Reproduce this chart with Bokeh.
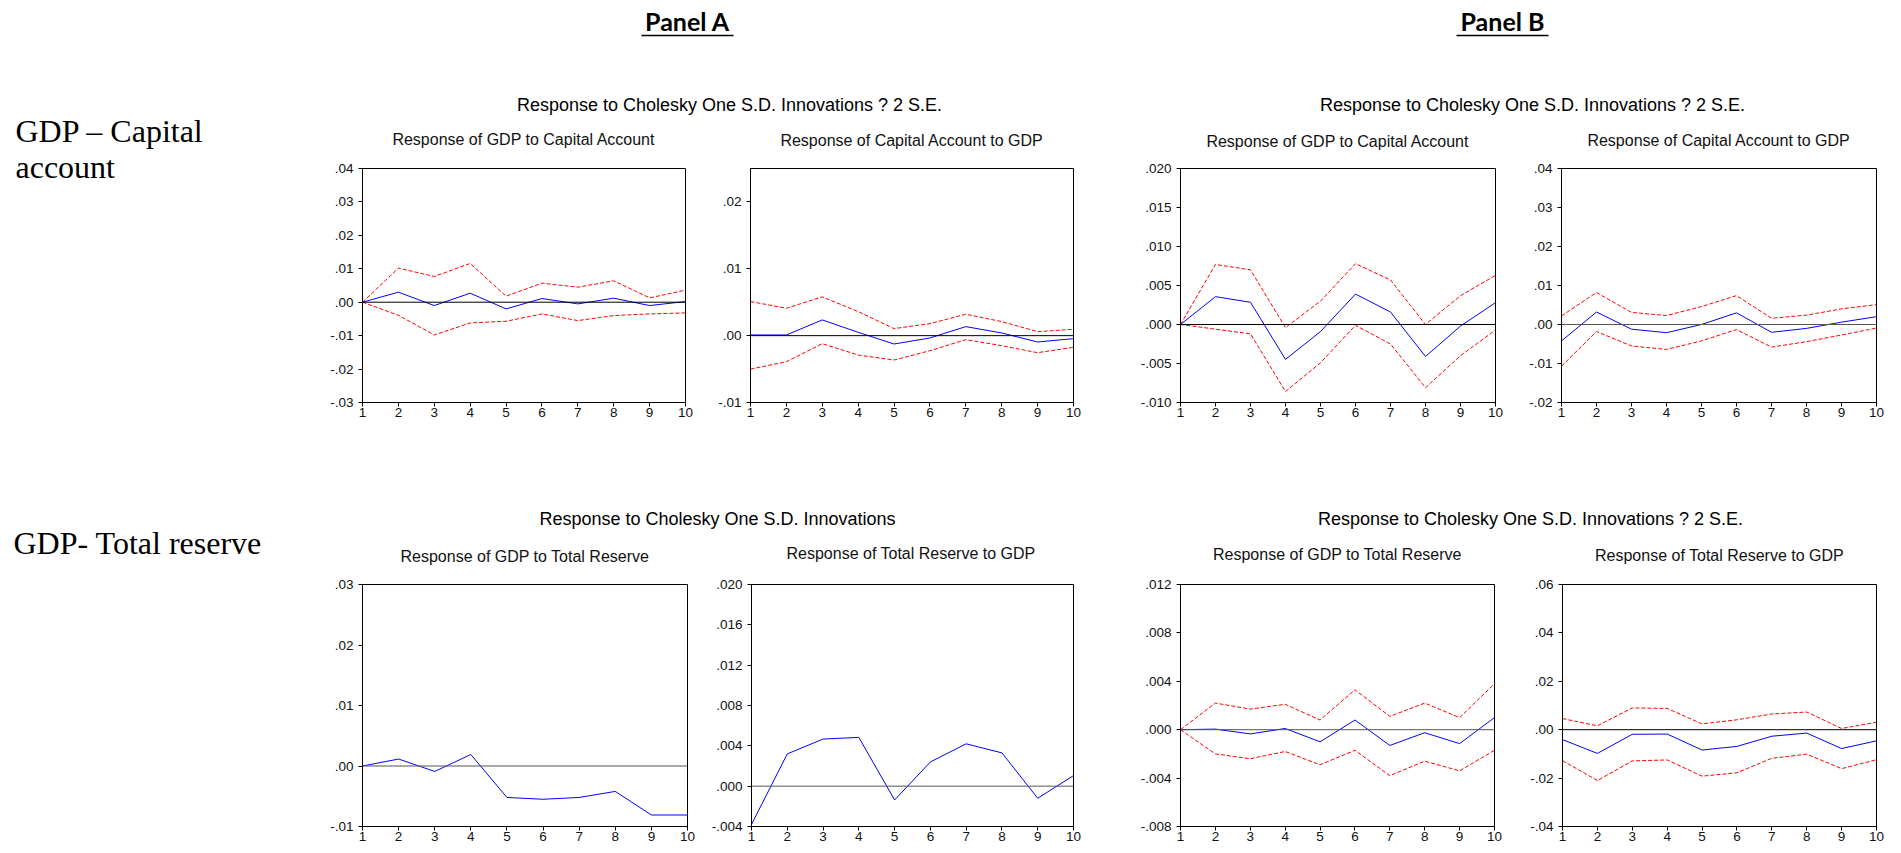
from bokeh.plotting import figure
from bokeh.models import (Range1d, FixedTicker, CustomJSTickFormatter, Span, Label,
                          ColumnDataSource)
from bokeh.layouts import row, column
from bokeh.embed import file_html
from bokeh.resources import INLINE

# ---------------- data ----------------
horizons = [1, 2, 3, 4, 5, 6, 7, 8, 9, 10]

panel_titles = ["Panel A", "Panel B"]
row_labels = [["GDP \u2013 Capital", "account"], ["GDP- Total reserve"]]
super_titles = ["Response to Cholesky One S.D. Innovations ? 2 S.E.",
                "Response to Cholesky One S.D. Innovations ? 2 S.E.",
                "Response to Cholesky One S.D. Innovations",
                "Response to Cholesky One S.D. Innovations ? 2 S.E."]
sub_titles = ["Response of GDP to Capital Account", "Response of Capital Account to GDP",
              "Response of GDP to Capital Account", "Response of Capital Account to GDP",
              "Response of GDP to Total Reserve", "Response of Total Reserve to GDP",
              "Response of GDP to Total Reserve", "Response of Total Reserve to GDP"]

# Panel A, GDP - Capital account
a_gdp_ca = [0.0, 0.0030, -0.0010, 0.0027, -0.0020, 0.0011, -0.0005, 0.0012, -0.0010, 0.0002]
a_gdp_ca_hi = [0.0, 0.0102, 0.0077, 0.0116, 0.0018, 0.0057, 0.0045, 0.0064, 0.0013, 0.0036]
a_gdp_ca_lo = [0.0, -0.0039, -0.0098, -0.0062, -0.0057, -0.0035, -0.0055, -0.0040, -0.0035, -0.0032]
a_ca_gdp = [0.0001, 0.0001, 0.00235, 0.0005, -0.00125, -0.00035, 0.00135, 0.0004, -0.00095, -0.00045]
a_ca_gdp_hi = [0.0051, 0.0041, 0.0058, 0.0036, 0.00105, 0.0018, 0.0032, 0.0021, 0.0006, 0.00095]
a_ca_gdp_lo = [-0.0050, -0.0039, -0.0012, -0.0029, -0.00365, -0.00225, -0.0006, -0.0015, -0.00255, -0.00175]

# Panel B, GDP - Capital account
b_gdp_ca = [0.0, 0.00357, 0.00285, -0.00447, -0.0009, 0.0039, 0.0016, -0.0041, -0.0002, 0.0028]
b_gdp_ca_hi = [0.0, 0.0077, 0.0070, -0.0004, 0.0030, 0.0078, 0.0057, 0.0000, 0.0037, 0.0063]
b_gdp_ca_lo = [0.0, -0.0006, -0.0012, -0.0086, -0.0049, -0.0001, -0.0025, -0.0081, -0.0040, -0.0007]
b_ca_gdp = [-0.0042, 0.0032, -0.0012, -0.0021, 0.0000, 0.0030, -0.0020, -0.0010, 0.0006, 0.0020]
b_ca_gdp_hi = [0.0022, 0.0082, 0.0031, 0.0023, 0.0046, 0.0074, 0.0016, 0.0024, 0.0040, 0.0051]
b_ca_gdp_lo = [-0.0107, -0.0018, -0.0055, -0.0064, -0.0042, -0.0013, -0.0058, -0.0044, -0.0027, -0.0009]

# Panel A, GDP - Total reserve (no bands)
a_gdp_tr = [0.0, 0.00115, -0.0009, 0.0019, -0.0052, -0.0055, -0.0052, -0.0042, -0.0081, -0.0081]
a_tr_gdp = [-0.0038, 0.0032, 0.00467, 0.00484, -0.00137, 0.0024, 0.0042, 0.0033, -0.0012, 0.00105]

# Panel B, GDP - Total reserve
b_gdp_tr = [0.0, 0.00005, -0.00035, 0.0001, -0.0010, 0.0008, -0.0013, -0.00025, -0.00115, 0.0010]
b_gdp_tr_hi = [0.0, 0.0022, 0.0017, 0.0021, 0.0008, 0.0033, 0.0011, 0.0022, 0.0010, 0.0038]
b_gdp_tr_lo = [0.0, -0.0020, -0.0024, -0.0018, -0.0029, -0.0017, -0.0038, -0.0026, -0.0034, -0.0017]
b_tr_gdp = [-0.0041, -0.0098, -0.0019, -0.0018, -0.0084, -0.0069, -0.0027, -0.0014, -0.0078, -0.0046]
b_tr_gdp_hi = [0.0046, 0.0016, 0.0090, 0.0088, 0.0024, 0.0041, 0.0065, 0.0073, 0.0005, 0.0031]
b_tr_gdp_lo = [-0.0128, -0.0210, -0.0129, -0.0125, -0.0192, -0.0178, -0.0118, -0.0101, -0.0161, -0.0124]

# y tick values for each panel (labels are these values without the leading zero)
yticks_1 = [-0.03, -0.02, -0.01, 0.0, 0.01, 0.02, 0.03, 0.04]
yticks_2 = [-0.01, 0.0, 0.01, 0.02]
yticks_3 = [-0.010, -0.005, 0.0, 0.005, 0.010, 0.015, 0.020]
yticks_4 = [-0.02, -0.01, 0.0, 0.01, 0.02, 0.03, 0.04]
yticks_5 = [-0.01, 0.0, 0.01, 0.02, 0.03]
yticks_6 = [-0.004, 0.0, 0.004, 0.008, 0.012, 0.016, 0.020]
yticks_7 = [-0.008, -0.004, 0.0, 0.004, 0.008, 0.012]
yticks_8 = [-0.04, -0.02, 0.0, 0.02, 0.04, 0.06]

# ---------------- styling / layout constants (page pixels) ----------------
SANS = "Liberation Sans"
SERIF = "Liberation Serif"
FIG_X = [0, 317, 708, 1128, 1518, 1893]
ROW1_Y = (150, 478)
ROW2_Y = (565, 849)
# frames (left, right, top, bottom) in page pixels
FRAMES = [(362, 685, 167, 402), (750, 1073, 168, 403), (1180, 1495, 168, 403), (1561, 1876, 167, 402),
          (362, 687, 584, 826), (748, 1073, 581, 826), (1180, 1494, 582, 826), (1562, 1876, 584, 826)]
# vertical middles of the sub-title texts
SUB_Y = [138.5, 139.5, 140.5, 139.5, 556, 552.5, 553.5, 554.5]


def blank(x0, x1, y0, y1):
    p = figure(width=x1 - x0, height=y1 - y0, x_range=Range1d(x0, x1), y_range=Range1d(y1, y0),
               min_border=0, toolbar_location=None, output_backend="svg", tools="")
    p.axis.visible = False
    p.grid.visible = False
    p.outline_line_color = None
    return p


def text(p, x, y, txt, font=SANS, size=18, bold=False, align="center", color="#000000"):
    # text_baseline "middle": y is the vertical middle of the text box
    p.add_layout(Label(x=x, y=y, text=txt, text_font=font, text_font_size=f"{size}px",
                       text_font_style="bold" if bold else "normal", text_align=align,
                       text_baseline="middle", text_color=color))


def subplot(idx, ylim, yticks, digits, irf, hi=None, lo=None, zero_color="black"):
    col = idx % 4
    fx0, fx1 = FIG_X[col + 1], FIG_X[col + 2]
    fy0, fy1 = ROW1_Y if idx < 4 else ROW2_Y
    l, r, t, b = FRAMES[idx]
    p = figure(width=fx1 - fx0, height=fy1 - fy0,
               x_range=Range1d(1, 10), y_range=Range1d(*ylim),
               min_border_left=l - fx0, min_border_right=fx1 - r,
               min_border_top=t - fy0, min_border_bottom=fy1 - b,
               toolbar_location=None, tools="", output_backend="svg")
    p.grid.visible = False
    p.outline_line_color = "black"
    p.outline_line_width = 1
    p.outline_line_alpha = 1
    p.background_fill_color = "white"
    p.border_fill_color = "white"
    for ax in (p.xaxis[0], p.yaxis[0]):
        ax.axis_line_color = "black"
        ax.major_tick_line_color = "black"
        ax.minor_tick_line_color = None
        ax.major_tick_in = 0
        ax.major_tick_out = 4
        ax.major_label_text_font = SANS
        ax.major_label_text_font_size = "13.5px"
        ax.major_label_text_color = "#111111"
    p.xaxis.ticker = FixedTicker(ticks=horizons)
    p.xaxis.major_label_standoff = 1
    p.yaxis.ticker = FixedTicker(ticks=yticks)
    p.yaxis.major_label_standoff = 5
    p.yaxis.formatter = CustomJSTickFormatter(args=dict(d=digits), code="""
        const s = tick.toFixed(d);
        return s.replace(/^(-?)0\\./, '$1.');
    """)
    p.add_layout(Span(location=0, dimension="width", line_color=zero_color, line_width=1))
    src = ColumnDataSource(dict(x=horizons, irf=irf,
                                hi=hi if hi is not None else [None] * len(horizons),
                                lo=lo if lo is not None else [None] * len(horizons)))
    if hi is not None:
        p.line("x", "hi", source=src, line_color="#ff0000", line_width=1, line_dash="4 2")
        p.line("x", "lo", source=src, line_color="#ff0000", line_width=1, line_dash="4 2")
    p.line("x", "irf", source=src, line_color="#0000ff", line_width=1)
    return p


# ---------------- left label column ----------------
left = blank(FIG_X[0], FIG_X[1], 0, ROW2_Y[1])
text(left, 15, 130, row_labels[0][0], font=SERIF, size=32, align="left")
text(left, 15, 166, row_labels[0][1], font=SERIF, size=32, align="left")
text(left, 13, 542, row_labels[1][0], font=SERIF, size=32, align="left")

# ---------------- header 1: panel titles, super title, sub titles of row 1 ----------------
h1 = blank(FIG_X[1], FIG_X[-1], 0, ROW1_Y[0])
for cx, txt in zip([687, 1502], panel_titles):
    text(h1, cx, 20, txt, font="Lato", size=25, bold=True)
    h1.segment(x0=[cx - 46], x1=[cx + 46], y0=[35], y1=[35], line_color="black", line_width=1.5)
for cx, txt in zip([729, 1532], super_titles[:2]):
    text(h1, cx, 104.5, txt, size=18)
for i in range(4):
    l, r = FRAMES[i][0], FRAMES[i][1]
    text(h1, (l + r) / 2, SUB_Y[i], sub_titles[i], size=16, color="#111111")

# ---------------- header 2: super title and sub titles of row 2 ----------------
h2 = blank(FIG_X[1], FIG_X[-1], ROW1_Y[1], ROW2_Y[0])
for cx, txt in zip([717, 1530], super_titles[2:]):
    text(h2, cx, 518.5, txt, size=18)
for i in range(4, 8):
    l, r = FRAMES[i][0], FRAMES[i][1]
    text(h2, (l + r) / 2, SUB_Y[i], sub_titles[i], size=16, color="#111111")

# ---------------- subplots ----------------
p1 = subplot(0, (-0.03, 0.04), yticks_1, 2, a_gdp_ca, a_gdp_ca_hi, a_gdp_ca_lo)
p2 = subplot(1, (-0.01, 0.025), yticks_2, 2, a_ca_gdp, a_ca_gdp_hi, a_ca_gdp_lo)
p3 = subplot(2, (-0.010, 0.020), yticks_3, 3, b_gdp_ca, b_gdp_ca_hi, b_gdp_ca_lo)
p4 = subplot(3, (-0.02, 0.04), yticks_4, 2, b_ca_gdp, b_ca_gdp_hi, b_ca_gdp_lo,
             zero_color="#555555")
p5 = subplot(4, (-0.01, 0.03), yticks_5, 2, a_gdp_tr, zero_color="#555555")
p6 = subplot(5, (-0.004, 0.020), yticks_6, 3, a_tr_gdp, zero_color="#555555")
p7 = subplot(6, (-0.008, 0.012), yticks_7, 3, b_gdp_tr, b_gdp_tr_hi, b_gdp_tr_lo,
             zero_color="#555555")
p8 = subplot(7, (-0.04, 0.06), yticks_8, 2, b_tr_gdp, b_tr_gdp_hi, b_tr_gdp_lo)

layout = row(left, column(h1, row(p1, p2, p3, p4), h2, row(p5, p6, p7, p8)))

open("out.html", "w").write(file_html(layout, INLINE, "Impulse responses"))
